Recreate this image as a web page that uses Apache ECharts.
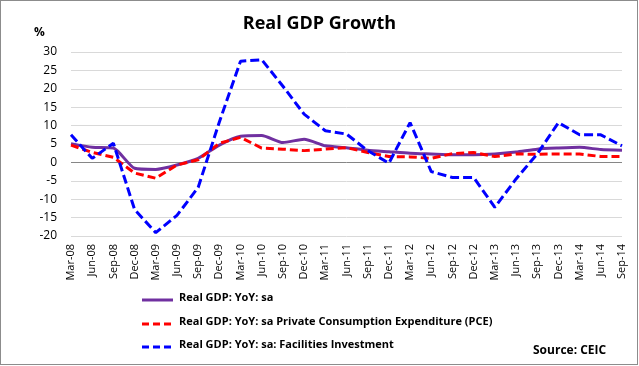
<!DOCTYPE html>
<html>
<head>
<meta charset="utf-8">
<script src="https://cdn.jsdelivr.net/npm/echarts@6/dist/echarts.min.js"></script>
<style>
html,body{margin:0;padding:0;background:#fff;}
#wrap{position:absolute;left:0;top:0;width:638px;height:365px;box-sizing:border-box;border:1px solid #8c8c8c;}
#chart{position:absolute;left:0;top:0;width:639px;height:366px;}
</style>
</head>
<body>
<div id="chart"></div>
<div id="wrap"></div>
<script>
const categories = ["Mar-08","Jun-08","Sep-08","Dec-08","Mar-09","Jun-09","Sep-09","Dec-09","Mar-10","Jun-10","Sep-10","Dec-10","Mar-11","Jun-11","Sep-11","Dec-11","Mar-12","Jun-12","Sep-12","Dec-12","Mar-13","Jun-13","Sep-13","Dec-13","Mar-14","Jun-14","Sep-14"];
const gdp = [5.1,4.1,3.9,-1.6,-1.9,-0.7,1.1,4.7,7.1,7.3,5.4,6.3,4.5,4.0,3.3,2.9,2.5,2.3,2.1,2.1,2.3,2.8,3.6,3.9,4.1,3.5,3.3];
const pce = [4.7,2.7,1.4,-2.9,-4.3,-0.7,0.7,5.2,6.8,3.9,3.6,3.2,3.6,4.0,2.7,1.6,1.5,1.1,2.4,2.7,1.6,2.3,2.2,2.3,2.3,1.6,1.6];
const facilities = [7.5,1.1,5.2,-12.8,-19.1,-14.4,-6.8,11.0,27.5,27.9,20.7,13.1,8.6,7.7,3.2,-0.2,10.8,-2.5,-4.1,-4.1,-12.2,-4.5,2.3,10.8,7.5,7.5,4.5];
const yTicks = {min:-20, max:30, interval:5};
const seriesNames = ["Real GDP: YoY: sa","Real GDP: YoY: sa Private Consumption Expenditure (PCE)","Real GDP: YoY: sa: Facilities Investment"];
const seriesColors = ['#7030a0','#ff0000','#0000ff'];
const seriesDash = ['solid',[8,4],[9,4]];

const chart = echarts.init(document.getElementById('chart'));
const font = '"Open Sans", "Liberation Sans", sans-serif';

const legendGraphics = [];
const rowY = [300, 324, 347];
seriesNames.forEach((n,i)=>{
  legendGraphics.push({type:'line',shape:{x1:142,y1:rowY[i],x2:173,y2:rowY[i]},
    style:{stroke:seriesColors[i],lineWidth:3,lineDash:seriesDash[i]==='solid'?null:[7,4]}});
  legendGraphics.push({type:'text',left:179,top:rowY[i]-8,
    style:{text:n,font:'bold 11px '+font,fill:'#000'}});
});

chart.setOption({
  animation:false,
  textStyle:{fontFamily:font},
  title:{text:'Real GDP Growth',left:'center',top:10,textStyle:{fontSize:18,fontWeight:'bold',color:'#000',fontFamily:font}},
  graphic:[
    {type:'text',left:34,top:27,style:{text:'%',font:'bold 12px '+font,fill:'#000'}},
    {type:'text',left:533,top:345,style:{text:'Source: CEIC',font:'bold 12px '+font,fill:'#000'}}
  ].concat(legendGraphics),
  grid:{left:71,right:17,top:52,bottom:130,containLabel:false},
  xAxis:{type:'category',data:categories,boundaryGap:false,
    axisLine:{show:false,onZero:false},axisTick:{show:false},
    axisLabel:{interval:0,rotate:90,fontSize:11,color:'#000',margin:8,fontFamily:font},
    splitLine:{show:false}},
  yAxis:{type:'value',min:yTicks.min,max:yTicks.max,interval:yTicks.interval,
    axisLine:{show:false},axisTick:{show:false},
    axisLabel:{fontSize:12,color:'#000',margin:14,fontFamily:font},
    splitLine:{lineStyle:{color:'#d9d9d9',width:1}}},
  series:[
    {name:seriesNames[0],type:'line',data:gdp,symbol:'none',smooth:0.2,
     lineStyle:{color:seriesColors[0],width:3},itemStyle:{color:seriesColors[0]},z:3,
     markLine:{silent:true,symbol:'none',label:{show:false},lineStyle:{color:'#868686',type:'solid',width:1},data:[{yAxis:0}],z:1}},
    {name:seriesNames[1],type:'line',data:pce,symbol:'none',
     lineStyle:{color:seriesColors[1],width:3,type:seriesDash[1]},itemStyle:{color:seriesColors[1]},z:4},
    {name:seriesNames[2],type:'line',data:facilities,symbol:'none',
     lineStyle:{color:seriesColors[2],width:3,type:seriesDash[2]},itemStyle:{color:seriesColors[2]},z:5}
  ]
});
</script>
</body>
</html>
